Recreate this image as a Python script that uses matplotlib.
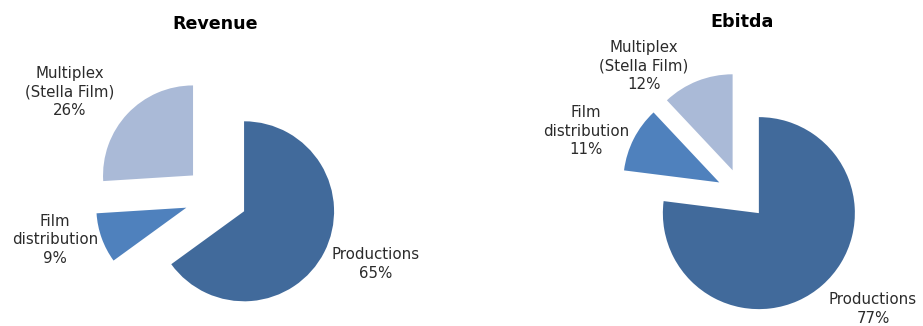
import matplotlib
matplotlib.use("Agg")
import matplotlib.pyplot as plt

categories = ["Productions", "Film\ndistribution", "Multiplex\n(Stella Film)"]
revenue = [65, 9, 26]
ebitda = [77, 11, 12]
colors = ["#416A9B", "#4F81BD", "#AABAD7"]

W, H = 923, 326
fig = plt.figure(figsize=(W / 100, H / 100), dpi=100)
ax = fig.add_axes([0, 0, 1, 1])

def y(p):
    return H - p

# Revenue pie
ax.pie(revenue, colors=colors, startangle=90, counterclock=False,
       center=(216, y(197)), radius=90, explode=[0.35 * 90] * 3,
       wedgeprops=dict(linewidth=0), frame=False)
# Ebitda pie
ax.pie(ebitda, colors=colors, startangle=90, counterclock=False,
       center=(742, y(194)), radius=96, explode=[25.5] * 3,
       wedgeprops=dict(linewidth=0), frame=False)

ax.set_xlim(0, W)
ax.set_ylim(0, H)
ax.set_aspect("equal")
ax.axis("off")

tc = "#2b2b2b"
fs = 10.8
ls = 1.33
ax.text(215, y(24), "Revenue", ha="center", va="center", fontsize=12.6, fontweight="bold", color="black")
ax.text(742, y(22), "Ebitda", ha="center", va="center", fontsize=12.6, fontweight="bold", color="black")

rev_lab_pos = [(376, 264), (55, 240), (70, 92)]
ebi_lab_pos = [(873, 309), (586, 131), (644, 66)]
for cat, v, (px, py) in zip(categories, revenue, rev_lab_pos):
    ax.text(px, y(py), f"{cat}\n{v}%", ha="center", va="center", fontsize=fs,
            linespacing=ls, color=tc, multialignment="center")
for cat, v, (px, py) in zip(categories, ebitda, ebi_lab_pos):
    ax.text(px, y(py), f"{cat}\n{v}%", ha="center", va="center", fontsize=fs,
            linespacing=ls, color=tc, multialignment="center")

fig.savefig("out.png", dpi=100)
